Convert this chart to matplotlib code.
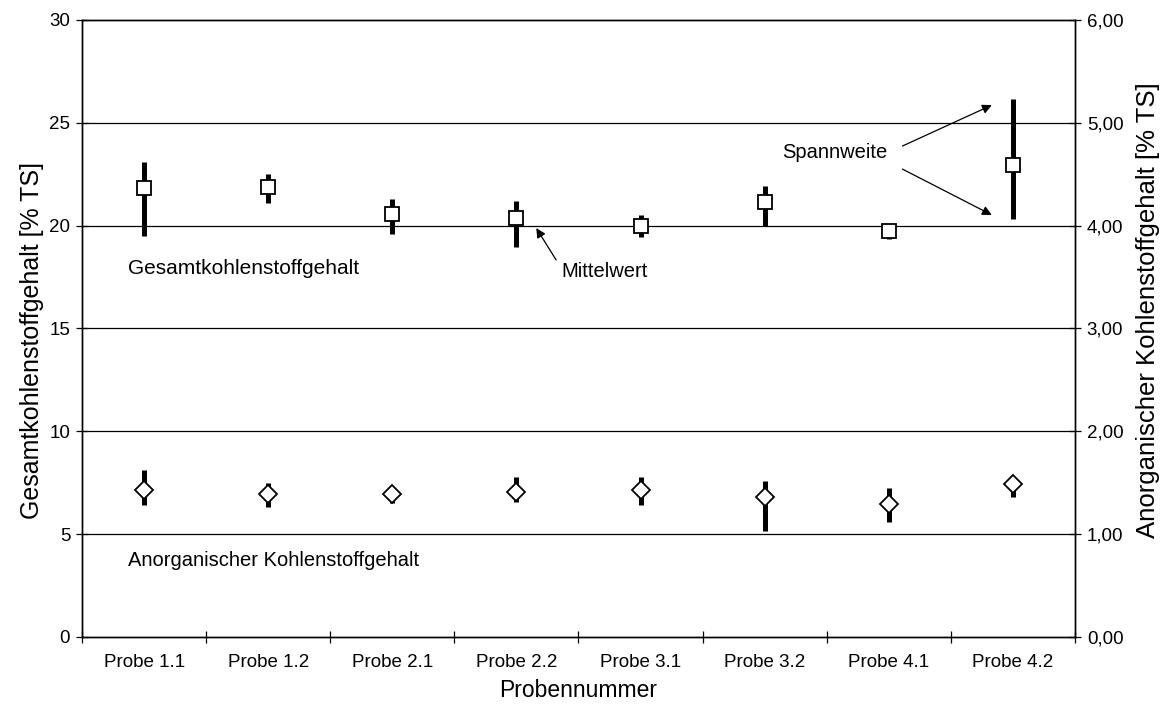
import matplotlib
matplotlib.use("Agg")
import matplotlib.pyplot as plt
from matplotlib import ticker

plt.rcParams['font.family'] = ['Liberation Sans', 'DejaVu Sans']

proben = ['Probe 1.1', 'Probe 1.2', 'Probe 2.1', 'Probe 2.2',
          'Probe 3.1', 'Probe 3.2', 'Probe 4.1', 'Probe 4.2']

# Gesamtkohlenstoffgehalt [% TS]: Mittelwert, Minimum, Maximum
tc_mean = [21.85, 21.9, 20.55, 20.35, 20.0, 21.15, 19.75, 22.95]
tc_min = [19.5, 21.1, 19.6, 18.95, 19.45, 20.0, 19.35, 20.3]
tc_max = [23.1, 22.5, 21.3, 21.2, 20.5, 21.95, 19.9, 26.15]

# Anorganischer Kohlenstoffgehalt [% TS]
ic_mean = [1.43, 1.39, 1.39, 1.41, 1.43, 1.36, 1.29, 1.49]
ic_min = [1.28, 1.26, 1.30, 1.31, 1.28, 1.03, 1.12, 1.36]
ic_max = [1.62, 1.50, 1.44, 1.56, 1.56, 1.52, 1.45, 1.53]

x = list(range(1, len(proben) + 1))

fig = plt.figure(figsize=(11.65, 7.13), dpi=100)
ax = fig.add_axes([0.0704, 0.1066, 0.8523, 0.8654])
ax2 = ax.twinx()

# left axis: total carbon
ax.set_xlim(0.5, len(proben) + 0.5)
ax.set_ylim(0, 30)
ax.set_yticks(range(0, 31, 5))
for v in range(5, 30, 5):
    ax.axhline(v, color='black', lw=0.9, zorder=1)
ax.vlines(x, tc_min, tc_max, color='black', lw=3.6, zorder=3)
ax.plot(x, tc_mean, ls='none', marker='s', ms=10, mfc='white',
        mec='black', mew=1.3, zorder=4)

# right axis: inorganic carbon
ax2.set_ylim(0, 6)
ax2.set_yticks(range(0, 7))
ax2.yaxis.set_major_formatter(
    ticker.FuncFormatter(lambda v, p: f'{v:.2f}'.replace('.', ',')))
ax2.vlines(x, ic_min, ic_max, color='black', lw=3.6, zorder=3)
ax2.plot(x, ic_mean, ls='none', marker='D', ms=9.5, mfc='white',
         mec='black', mew=1.3, zorder=4)

# x axis: labels centred, tick marks between the samples
ax.set_xticks(x)
ax.set_xticklabels(proben)
ax.set_xticks([i + 0.5 for i in range(0, len(proben) + 1)], minor=True)
ax.tick_params(axis='x', which='major', length=0, pad=12, labelsize=13.5)
ax.tick_params(axis='x', which='minor', length=9, width=0.9,
               direction='inout')
ax.tick_params(axis='y', length=9, width=0.9, direction='inout',
               labelsize=13.5, pad=4)
ax2.tick_params(axis='y', length=9, width=0.9, direction='inout',
                labelsize=13.5, pad=4)

for a in (ax, ax2):
    for s in a.spines.values():
        s.set_linewidth(1.0)

ax.set_xlabel('Probennummer', fontsize=16.5, labelpad=6)
ax.set_ylabel('Gesamtkohlenstoffgehalt [% TS]', fontsize=18, labelpad=4)
ax2.set_ylabel('Anorganischer Kohlenstoffgehalt [% TS]', fontsize=18.5,
               labelpad=9)
ax.yaxis.label.set_y(0.48)
ax2.yaxis.label.set_y(0.53)

# annotations
ax.text(0.87, 17.9, 'Gesamtkohlenstoffgehalt', fontsize=15, va='center')
ax.text(0.87, 3.7, 'Anorganischer Kohlenstoffgehalt', fontsize=14.5,
        va='center')

arrow = dict(arrowstyle='-|>', color='black', lw=0.9, mutation_scale=14,
             shrinkA=0, shrinkB=0)
ax.text(4.36, 17.75, 'Mittelwert', fontsize=14.5, va='center')
ax.annotate('', xy=(4.16, 19.88), xytext=(4.32, 18.33), arrowprops=arrow)

ax.text(6.14, 23.58, 'Spannweite', fontsize=14.5, va='center')
ax.annotate('', xy=(7.83, 25.86), xytext=(7.11, 23.87), arrowprops=arrow)
ax.annotate('', xy=(7.83, 20.52), xytext=(7.11, 22.75), arrowprops=arrow)

fig.savefig('out.png', dpi=100)
